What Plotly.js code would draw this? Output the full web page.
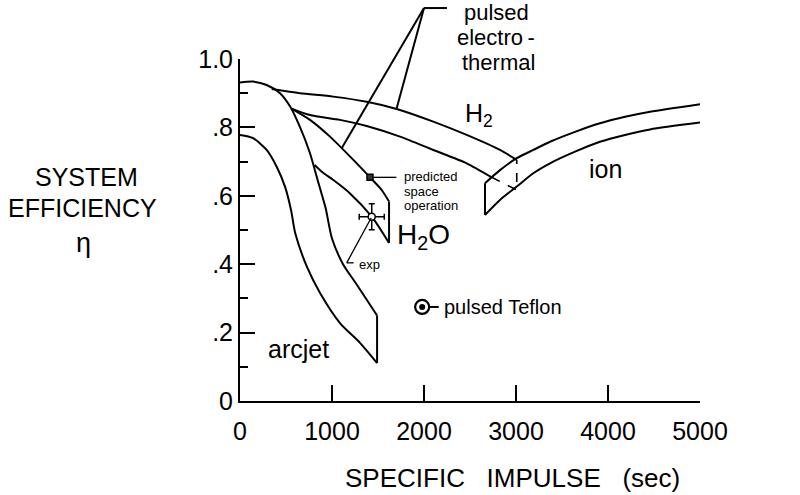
<!DOCTYPE html>
<html>
<head>
<meta charset="utf-8">
<script src="https://cdn.plot.ly/plotly-3.0.1.min.js"></script>
<style>
  html, body { margin: 0; padding: 0; background: #fff; }
  #chart { width: 800px; height: 495px; }
</style>
</head>
<body>
<div id="chart"></div>
<script>
// ---- Data (specific impulse in sec, efficiency 0..1) ----
const xTickVals = [0, 1000, 2000, 3000, 4000, 5000];
const xTickText = ['0', '1000', '2000', '3000', '4000', '5000'];
const yTickVals = [0, 0.2, 0.4, 0.6, 0.8, 1.0];
const yTickText = ['0', '.2', '.4', '.6', '.8', '1.0'];
const yMinorVals = [0.1, 0.3, 0.5, 0.7, 0.9];

// arcjet band
const arcjetUpperX = [0, 140, 290, 435, 545, 650, 760, 850, 930, 1000, 1120, 1270, 1490];
const arcjetUpperY = [0.931, 0.934, 0.924, 0.900, 0.861, 0.802, 0.725, 0.640, 0.565, 0.475, 0.400, 0.340, 0.250];
const arcjetLowerX = [0, 140, 290, 400, 490, 555, 600, 728, 870, 1087, 1304, 1490];
const arcjetLowerY = [0.778, 0.769, 0.734, 0.684, 0.626, 0.558, 0.491, 0.392, 0.316, 0.228, 0.170, 0.111];

// pulsed electrothermal H2O band
const h2oUpperX = [560, 761, 978, 1232, 1413, 1540, 1620];
const h2oUpperY = [0.855, 0.822, 0.773, 0.705, 0.654, 0.617, 0.583];
const h2oLowerX = [810, 900, 1015, 1196, 1432, 1620];
const h2oLowerY = [0.690, 0.668, 0.646, 0.607, 0.539, 0.462];

// pulsed electrothermal H2 band
const h2UpperX = [345, 652, 1014, 1377, 1703, 2101, 2464, 2826, 3008];
const h2UpperY = [0.912, 0.900, 0.890, 0.875, 0.854, 0.817, 0.778, 0.734, 0.705];
const h2LowerX = [560, 761, 1087, 1377, 1739, 2101, 2464, 2736];
const h2LowerY = [0.855, 0.836, 0.822, 0.804, 0.773, 0.734, 0.695, 0.654];
const h2HiddenX = [2736, 3008, 3008];
const h2HiddenY = [0.654, 0.617, 0.705];

// ion band
const ionUpperX = [2663, 2826, 3008, 3188, 3370, 3642, 3913, 4185, 4457, 5000];
const ionUpperY = [0.637, 0.675, 0.710, 0.734, 0.758, 0.787, 0.812, 0.831, 0.846, 0.868];
const ionLowerX = [2663, 2826, 3008, 3188, 3370, 3642, 3913, 4185, 4457, 5000];
const ionLowerY = [0.544, 0.588, 0.627, 0.666, 0.695, 0.729, 0.758, 0.778, 0.794, 0.814];

// points
const predictedX = [1413], predictedY = [0.654];
const expX = [1432], expY = [0.539], expErrX = [136], expErrY = [0.038];
const teflonX = [1980], teflonY = [0.275];

// ---- Build traces ----
const FONT = 'Liberation Sans, Arial, Helvetica, sans-serif';
function curve(x, y, extra) {
  return Object.assign({
    type: 'scatter', mode: 'lines', x: x, y: y,
    line: { color: 'black', width: 2, shape: 'spline', smoothing: 0.7 },
    hoverinfo: 'skip', showlegend: false
  }, extra || {});
}
function seg(x, y, dash) {
  return curve(x, y, { line: { color: 'black', width: dash ? 1.6 : 2, dash: dash ? 'dash' : 'solid' } });
}
const last = a => a[a.length - 1];

const traces = [
  curve(arcjetUpperX, arcjetUpperY),
  curve(arcjetLowerX, arcjetLowerY),
  seg([last(arcjetUpperX), last(arcjetLowerX)], [last(arcjetUpperY), last(arcjetLowerY)]),

  curve(h2oUpperX, h2oUpperY),
  curve(h2oLowerX, h2oLowerY),
  seg([last(h2oUpperX), last(h2oLowerX)], [last(h2oUpperY), last(h2oLowerY)]),

  curve(h2UpperX, h2UpperY),
  curve(h2LowerX, h2LowerY),
  seg(h2HiddenX, h2HiddenY, true),

  curve(ionUpperX, ionUpperY),
  curve(ionLowerX, ionLowerY),
  seg([ionUpperX[0], ionLowerX[0]], [ionUpperY[0], ionLowerY[0]]),

  { type: 'scatter', mode: 'markers', x: predictedX, y: predictedY, cliponaxis: false,
    marker: { symbol: 'square', size: 6, color: '#333', line: { color: 'black', width: 1.5 } },
    hoverinfo: 'skip', showlegend: false },
  { type: 'scatter', mode: 'markers', x: expX, y: expY, cliponaxis: false,
    marker: { symbol: 'circle', size: 7, color: 'white', line: { color: 'black', width: 1.5 } },
    error_x: { type: 'data', array: expErrX, color: 'black', thickness: 1.5, width: 3 },
    error_y: { type: 'data', array: expErrY, color: 'black', thickness: 1.5, width: 3 },
    hoverinfo: 'skip', showlegend: false },
  { type: 'scatter', mode: 'markers', x: teflonX, y: teflonY, cliponaxis: false,
    marker: { symbol: 'circle', size: 14, color: 'white', line: { color: 'black', width: 2.2 } },
    hoverinfo: 'skip', showlegend: false },
  { type: 'scatter', mode: 'markers', x: teflonX, y: teflonY, cliponaxis: false,
    marker: { symbol: 'circle', size: 6, color: 'black', line: { width: 0 } },
    hoverinfo: 'skip', showlegend: false }
];

function txt(x, y, text, size, xanchor, ref) {
  return { x: x, y: y, xref: ref ? 'paper' : 'x', yref: ref ? 'paper' : 'y', text: text,
    showarrow: false, xanchor: xanchor || 'center', yanchor: 'middle',
    font: { family: FONT, size: size, color: 'black' } };
}
const nb = '\u00a0';
const annotations = [
  txt(641, 0.152, 'arcjet', 25),
  txt(3968, 0.678, 'ion', 25),
  txt(2424, 0.836, 'H<sub>2</sub>', 25, 'left'),
  txt(1685, 0.482, 'H<sub>2</sub>O', 28, 'left'),
  txt(0.482, 1.137, 'pulsed', 22, 'left', true),
  txt(0.467, 1.064, 'electro\u2009-', 22, 'left', true),
  txt(0.478, 0.991, 'thermal', 22, 'left', true),
  txt(1758, 0.655, 'predicted', 13, 'left'),
  txt(1758, 0.614, 'space', 13, 'left'),
  txt(1758, 0.573, 'operation', 13, 'left'),
  txt(1272, 0.400, 'exp', 13, 'left'),
  txt(2192, 0.275, 'pulsed Teflon', 20, 'left'),
  txt(-0.334, 0.656, 'SYSTEM', 25, 'center', true),
  txt(-0.343, 0.563, 'EFFICIENCY', 25, 'center', true),
  txt(-0.341, 0.462, '\u03b7', 27, 'center', true),
  txt(0.592, -0.225, 'SPECIFIC' + nb + nb + nb + 'IMPULSE' + nb + nb + nb + '(sec)', 26, 'center', true)
];

function pl(x0, y0, x1, y1) {
  return { type: 'line', xref: 'paper', yref: 'paper', x0: x0 / 5000, y0: y0, x1: x1 / 5000, y1: y1,
    line: { color: 'black', width: 2 } };
}
const shapes = [
  pl(2000, 1.149, 1105, 0.739),
  pl(2000, 1.149, 1703, 0.856),
  pl(2000, 1.149, 2250, 1.149),
  Object.assign(pl(1450, 0.654, 1700, 0.654), { line: { color: 'black', width: 1.3 } }),
  Object.assign(pl(1425, 0.535, 1160, 0.404), { line: { color: 'black', width: 1.3 } }),
  Object.assign(pl(1160, 0.404, 1235, 0.404), { line: { color: 'black', width: 1.3 } }),
  pl(2055, 0.275, 2160, 0.275)
];

const layout = {
  width: 800, height: 495,
  margin: { l: 240, r: 100, t: 59, b: 94, pad: 0 },
  paper_bgcolor: 'white', plot_bgcolor: 'white',
  showlegend: false,
  font: { family: FONT, color: 'black' },
  xaxis: {
    range: [0, 5000], tickmode: 'array', tickvals: xTickVals, ticktext: xTickText,
    ticks: 'inside', ticklen: 16, tickwidth: 2, tickcolor: 'black',
    showline: true, linewidth: 2, linecolor: 'black', mirror: false,
    showgrid: false, zeroline: false, tickfont: { family: FONT, size: 25, color: 'black' },
    ticklabelstandoff: 7, fixedrange: true
  },
  yaxis: {
    range: [0, 1], tickmode: 'array', tickvals: yTickVals, ticktext: yTickText,
    ticks: 'inside', ticklen: 15, tickwidth: 2, tickcolor: 'black',
    minor: { tickmode: 'array', tickvals: yMinorVals, ticks: 'inside', ticklen: 8, tickwidth: 2, tickcolor: 'black', showgrid: false },
    showline: true, linewidth: 2, linecolor: 'black',
    showgrid: false, zeroline: false, tickfont: { family: FONT, size: 25, color: 'black' },
    ticklabelstandoff: 0, fixedrange: true
  },
  annotations: annotations,
  shapes: shapes
};

Plotly.newPlot('chart', traces, layout, { displayModeBar: false, staticPlot: true });
</script>
</body>
</html>
